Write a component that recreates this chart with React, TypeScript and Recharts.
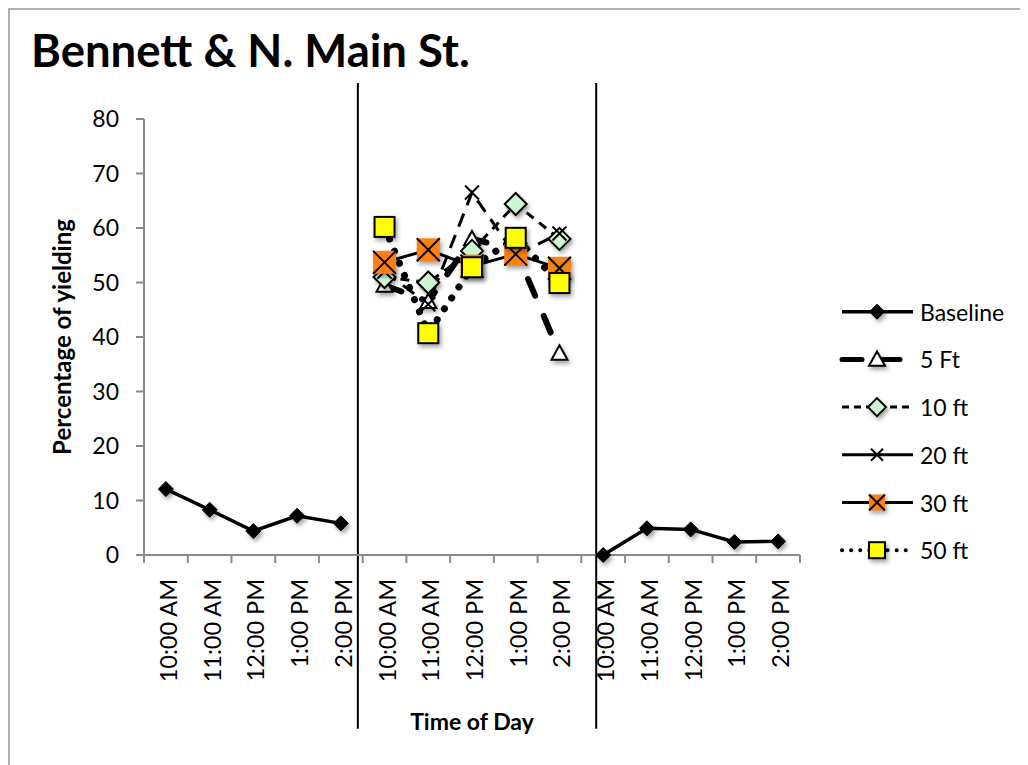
import React from 'react'
import { LineChart, Line, XAxis, YAxis, ReferenceLine, Legend, Label } from 'recharts'

const FONT = 'Lato, "Open Sans", sans-serif'

// 15 slots: baseline week, treatment week, after week
const CATEGORIES = [
  '10:00 AM', '11:00 AM', '12:00 PM', '1:00 PM', '2:00 PM',
  '10:00 AM', '11:00 AM', '12:00 PM', '1:00 PM', '2:00 PM',
  '10:00 AM', '11:00 AM', '12:00 PM', '1:00 PM', '2:00 PM',
]
const BASELINE = [12.1, 8.3, 4.4, 7.2, 5.8, null, null, null, null, null, 0, 4.9, 4.7, 2.4, 2.5]
const FT5 = [null, null, null, null, null, 49.5, 46.5, 58, 56, 37, null, null, null, null, null]
const FT10 = [null, null, null, null, null, 51, 50, 55.8, 64.4, 58, null, null, null, null, null]
const FT20 = [null, null, null, null, null, 52, 46, 66.5, 55, 59, null, null, null, null, null]
const FT30 = [null, null, null, null, null, 53.7, 56, 53, 55.2, 52.6, null, null, null, null, null]
const FT50 = [null, null, null, null, null, 60.2, 40.7, 52.8, 58.2, 49.9, null, null, null, null, null]
const Y_TICKS = [0, 10, 20, 30, 40, 50, 60, 70, 80]
// hand-drawn period dividers, in slot units
const DIVIDERS = [4.89, 10.34]

// each time slot is one unit wide; points sit in the middle of their slot
const data = CATEGORIES.map((label, i) => ({
  x: i + 0.5,
  label,
  Baseline: BASELINE[i],
  '5 Ft': FT5[i],
  '10 ft': FT10[i],
  '20 ft': FT20[i],
  '30 ft': FT30[i],
  '50 ft': FT50[i],
}))
// slot edges get tick marks, slot middles get labels
const X_TICKS = [0, ...CATEGORIES.flatMap((_, i) => [i + 0.5, i + 1])]

const AXIS = '#8a8a8a'
const ORANGE = '#FF7F0F'
const MINT = '#CCF6D2'
const YELLOW = '#FFFF00'
const SHADOW = { filter: 'drop-shadow(2px 3px 2px rgba(0,0,0,0.35))' }

type Mk = { cx: number; cy: number; s: number }

const DiamondMk = ({ cx, cy, s, fill }: Mk & { fill: string }) => (
  <polygon points={`${cx},${cy - s} ${cx + s},${cy} ${cx},${cy + s} ${cx - s},${cy}`}
    fill={fill} stroke="#000" strokeWidth={fill === '#000' ? 1 : 2} style={SHADOW} />
)
const TriangleMk = ({ cx, cy, s }: Mk) => (
  <polygon points={`${cx},${cy - s} ${cx + s},${cy + s * 0.8} ${cx - s},${cy + s * 0.8}`}
    fill="#fff" stroke="#000" strokeWidth={2} style={SHADOW} />
)
const CrossMk = ({ cx, cy, s }: Mk) => (
  <path d={`M${cx - s},${cy - s}L${cx + s},${cy + s}M${cx + s},${cy - s}L${cx - s},${cy + s}`}
    stroke="#000" strokeWidth={2} />
)
const OrangeMk = ({ cx, cy, s }: Mk) => (
  <g style={SHADOW}>
    <rect x={cx - s} y={cy - s} width={2 * s} height={2 * s} fill={ORANGE} />
    <path d={`M${cx - s},${cy - s}L${cx + s},${cy + s}M${cx + s},${cy - s}L${cx - s},${cy + s}`}
      stroke="#000" strokeWidth={2} />
  </g>
)
const YellowMk = ({ cx, cy, s }: Mk) => (
  <rect x={cx - s} y={cy - s} width={2 * s} height={2 * s} fill={YELLOW}
    stroke="#000" strokeWidth={2} style={SHADOW} />
)

const dotOf = (kind: string, s: number) => (p: any) => {
  if (p.value == null || p.cx == null || p.cy == null) return <g key={p.index} />
  const props = { cx: p.cx, cy: p.cy, s }
  let el: React.ReactNode = null
  if (kind === 'base') el = <DiamondMk {...props} fill="#000" />
  if (kind === 'tri') el = <TriangleMk {...props} />
  if (kind === 'dia') el = <DiamondMk {...props} fill={MINT} />
  if (kind === 'x') el = <CrossMk {...props} />
  if (kind === 'orange') el = <OrangeMk {...props} />
  if (kind === 'yellow') el = <YellowMk {...props} />
  return <g key={p.index}>{el}</g>
}

const LEGEND_ROWS = [
  { name: 'Baseline', dash: undefined, width: 3.5, cap: 'butt', kind: 'base', s: 7.5 },
  { name: '5 Ft', dash: '20 18', width: 5, cap: 'round', kind: 'tri', s: 8 },
  { name: '10 ft', dash: '7 5', width: 3, cap: 'butt', kind: 'dia', s: 9 },
  { name: '20 ft', dash: undefined, width: 3, cap: 'butt', kind: 'x', s: 6 },
  { name: '30 ft', dash: undefined, width: 3, cap: 'butt', kind: 'orange', s: 8 },
  { name: '50 ft', dash: '0.1 9', width: 4, cap: 'round', kind: 'yellow', s: 8 },
]

const LegendBox = () => (
  <svg width={190} height={290} style={{ overflow: 'visible' }}>
    {LEGEND_ROWS.map((r, i) => {
      const y = 21.7 + i * 47.7
      return (
        <g key={r.name}>
          <line x1={8} x2={79} y1={y} y2={y} stroke="#000" strokeWidth={r.width}
            strokeDasharray={r.dash} strokeLinecap={r.cap as any} />
          {dotOf(r.kind, r.s)({ cx: 43, cy: y, value: 1, index: i })}
          <text x={86} y={y} dominantBaseline="central" fontFamily={FONT} fontSize={23} fill="#000">
            {r.name}
          </text>
        </g>
      )
    })}
  </svg>
)

const SlotTick = ({ x, y, payload }: any) => {
  const v = payload.value as number
  if (Number.isInteger(v)) {
    return <line x1={x} x2={x} y1={y} y2={y + 8} stroke={AXIS} strokeWidth={2} />
  }
  return (
    <text transform={`translate(${x + 2},${y + 24}) rotate(-90)`} textAnchor="end"
      dominantBaseline="central" fontFamily={FONT} fontSize={23.5} fill="#000">
      {CATEGORIES[Math.floor(v)]}
    </text>
  )
}

export default function App() {
  return (
    <div style={{ position: 'relative', width: 1020, height: 757, fontFamily: FONT }}>
      <div style={{
        position: 'absolute', inset: 0, borderTop: '2px solid #b0b0b0',
        borderLeft: '2px solid #b0b0b0', pointerEvents: 'none',
      }} />
      <div style={{
        position: 'absolute', left: 23, top: 19, fontSize: 45.5, fontWeight: 700,
        color: '#000', fontFamily: FONT, lineHeight: 1, whiteSpace: 'nowrap',
      }}>
        Bennett &amp; N. Main St.
      </div>
      <LineChart width={1020} height={757} data={data}
        margin={{ top: 111, right: 38, bottom: 0, left: 40 }}>
        <XAxis dataKey="x" type="number" domain={[0, 15]} ticks={X_TICKS} interval={0}
          height={210} stroke={AXIS} strokeWidth={2} tickLine={false} tickSize={0} tickMargin={0}
          allowDataOverflow tick={<SlotTick />}>
          <Label value="Time of Day" position="insideBottom" offset={35}
            style={{ fontFamily: FONT, fontSize: 23, fontWeight: 700, fill: '#000' }} />
        </XAxis>
        <YAxis domain={[0, 80]} ticks={Y_TICKS} width={96} tickSize={8} tickMargin={17}
          stroke={AXIS} strokeWidth={2} tickLine={{ stroke: AXIS, strokeWidth: 2 }}
          tick={{ fill: '#000', fontSize: 23, fontFamily: FONT }}>
          <Label value="Percentage of yielding" angle={-90} position="insideLeft" offset={14}
            style={{ textAnchor: 'middle', fontFamily: FONT, fontSize: 24, fontWeight: 700, fill: '#000' }} />
        </YAxis>
        {DIVIDERS.map((d) => (
          <ReferenceLine key={d} ifOverflow="visible" stroke="#000" strokeWidth={2}
            segment={[{ x: d, y: 86.6 }, { x: d, y: -31.9 }]} />
        ))}
        <Legend layout="vertical" align="right" verticalAlign="middle" width={190}
          wrapperStyle={{ left: 826, top: 282, right: 'auto', bottom: 'auto' }}
          content={() => <LegendBox />} />
        <Line dataKey="Baseline" stroke="#000" strokeWidth={3.5}
          dot={dotOf('base', 7.5)} activeDot={false} isAnimationActive={false} />
        <Line dataKey="5 Ft" stroke="#000" strokeWidth={6} strokeDasharray="18 22"
          strokeLinecap="round" dot={dotOf('tri', 8)} activeDot={false} isAnimationActive={false} />
        <Line dataKey="10 ft" stroke="#000" strokeWidth={3} strokeDasharray="9 7"
          dot={dotOf('dia', 11)} activeDot={false} isAnimationActive={false} />
        <Line dataKey="20 ft" stroke="#000" strokeWidth={3} strokeDasharray="14 9"
          dot={dotOf('x', 7)} activeDot={false} isAnimationActive={false} />
        <Line dataKey="30 ft" stroke="#000" strokeWidth={3}
          dot={dotOf('orange', 11.5)} activeDot={false} isAnimationActive={false} />
        <Line dataKey="50 ft" stroke="#000" strokeWidth={7} strokeDasharray="0.1 13"
          strokeLinecap="round" dot={dotOf('yellow', 10)} activeDot={false} isAnimationActive={false} />
      </LineChart>
    </div>
  )
}
